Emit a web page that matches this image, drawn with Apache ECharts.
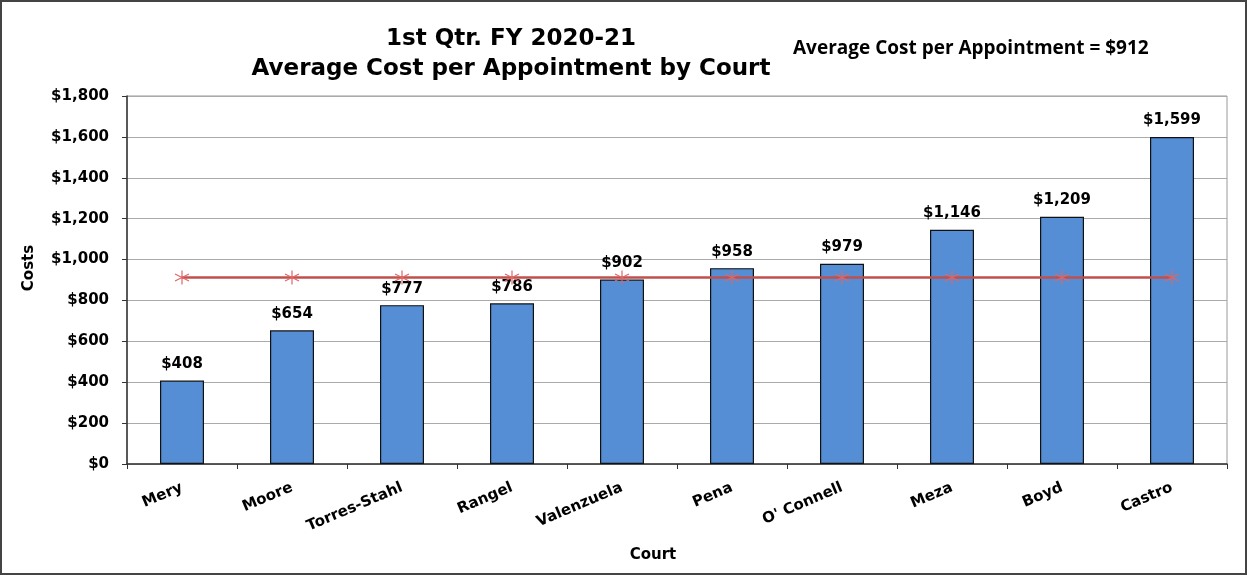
<!DOCTYPE html>
<html>
<head>
<meta charset="utf-8">
<script src="https://cdn.jsdelivr.net/npm/echarts@6/dist/echarts.min.js"></script>
<style>
  html, body { margin: 0; padding: 0; background: #fff; }
  #main { width: 1247px; height: 575px; box-sizing: border-box; border: 2px solid #444; }
</style>
</head>
<body>
<div id="main"></div>
<script>
// courts, sorted by cost
const courts = ['Mery', 'Moore', 'Torres-Stahl', 'Rangel', 'Valenzuela', 'Pena', "O' Connell", 'Meza', 'Boyd', 'Castro']
const costs = [408, 654, 777, 786, 902, 958, 979, 1146, 1209, 1599]
const avgCost = [912, 912, 912, 912, 912, 912, 912, 912, 912, 912]

const font = '"DejaVu Sans", Arial, sans-serif'
const money = v => '$' + v.toLocaleString('en-US')

// asterisk marker
const star = 'path://M0,-10L0,10M-8.7,-5L8.7,5M-8.7,5L8.7,-5'

const chart = echarts.init(document.getElementById('main'))
chart.setOption({
  animation: false,
  title: [
    {
      text: '1st Qtr. FY 2020-21\nAverage Cost per Appointment by Court',
      left: 504, top: 17, textAlign: 'center',
      textStyle: { fontFamily: font, fontSize: 23, fontWeight: 'bold', color: '#000', lineHeight: 30 }
    },
    {
      text: 'Average Cost per Appointment = $912',
      left: 786, top: 32,
      textStyle: { fontFamily: '"Open Sans", sans-serif', fontSize: 19, fontWeight: 'bold', color: '#000' }
    }
  ],
  grid: { left: 125, right: 18, top: 94, bottom: 109, show: true, borderColor: '#999', borderWidth: 1 },
  xAxis: {
    type: 'category',
    data: courts,
    name: 'Court',
    nameLocation: 'middle',
    nameGap: 84,
    nameTextStyle: { fontFamily: font, fontSize: 15, fontWeight: 'bold', color: '#000', padding: [0, 48, 0, 0] },
    axisLine: { lineStyle: { color: '#333', width: 1.5 } },
    axisTick: { show: true, length: 5, lineStyle: { color: '#333' } },
    axisLabel: { rotate: 23, margin: 23, fontFamily: font, fontSize: 15, fontWeight: 'bold', color: '#000' }
  },
  yAxis: {
    type: 'value',
    min: 0, max: 1800, interval: 200,
    name: 'Costs',
    nameLocation: 'middle',
    nameGap: 90,
    nameTextStyle: { fontFamily: font, fontSize: 15, fontWeight: 'bold', color: '#000', padding: [0, 0, 0, 24] },
    axisLine: { show: true, lineStyle: { color: '#333', width: 1.5 } },
    axisTick: { show: true, length: 5, lineStyle: { color: '#333' } },
    splitLine: { lineStyle: { color: '#aaa' } },
    axisLabel: { formatter: money, margin: 18, fontFamily: font, fontSize: 15, fontWeight: 'bold', color: '#000' }
  },
  series: [
    {
      type: 'bar',
      data: costs,
      barWidth: 44,
      itemStyle: { color: '#558ed5', borderColor: '#111', borderWidth: 1.2 },
      label: {
        show: true, position: 'top', distance: 9,
        formatter: p => money(p.value),
        fontFamily: font, fontSize: 15, fontWeight: 'bold', color: '#000'
      },
      z: 2
    },
    {
      type: 'line',
      data: avgCost,
      symbol: star,
      symbolSize: 14,
      lineStyle: { color: '#c0504d', width: 2.5 },
      itemStyle: { color: 'transparent', borderColor: '#e06666', borderWidth: 1.2 },
      z: 3
    }
  ]
})
</script>
</body>
</html>
